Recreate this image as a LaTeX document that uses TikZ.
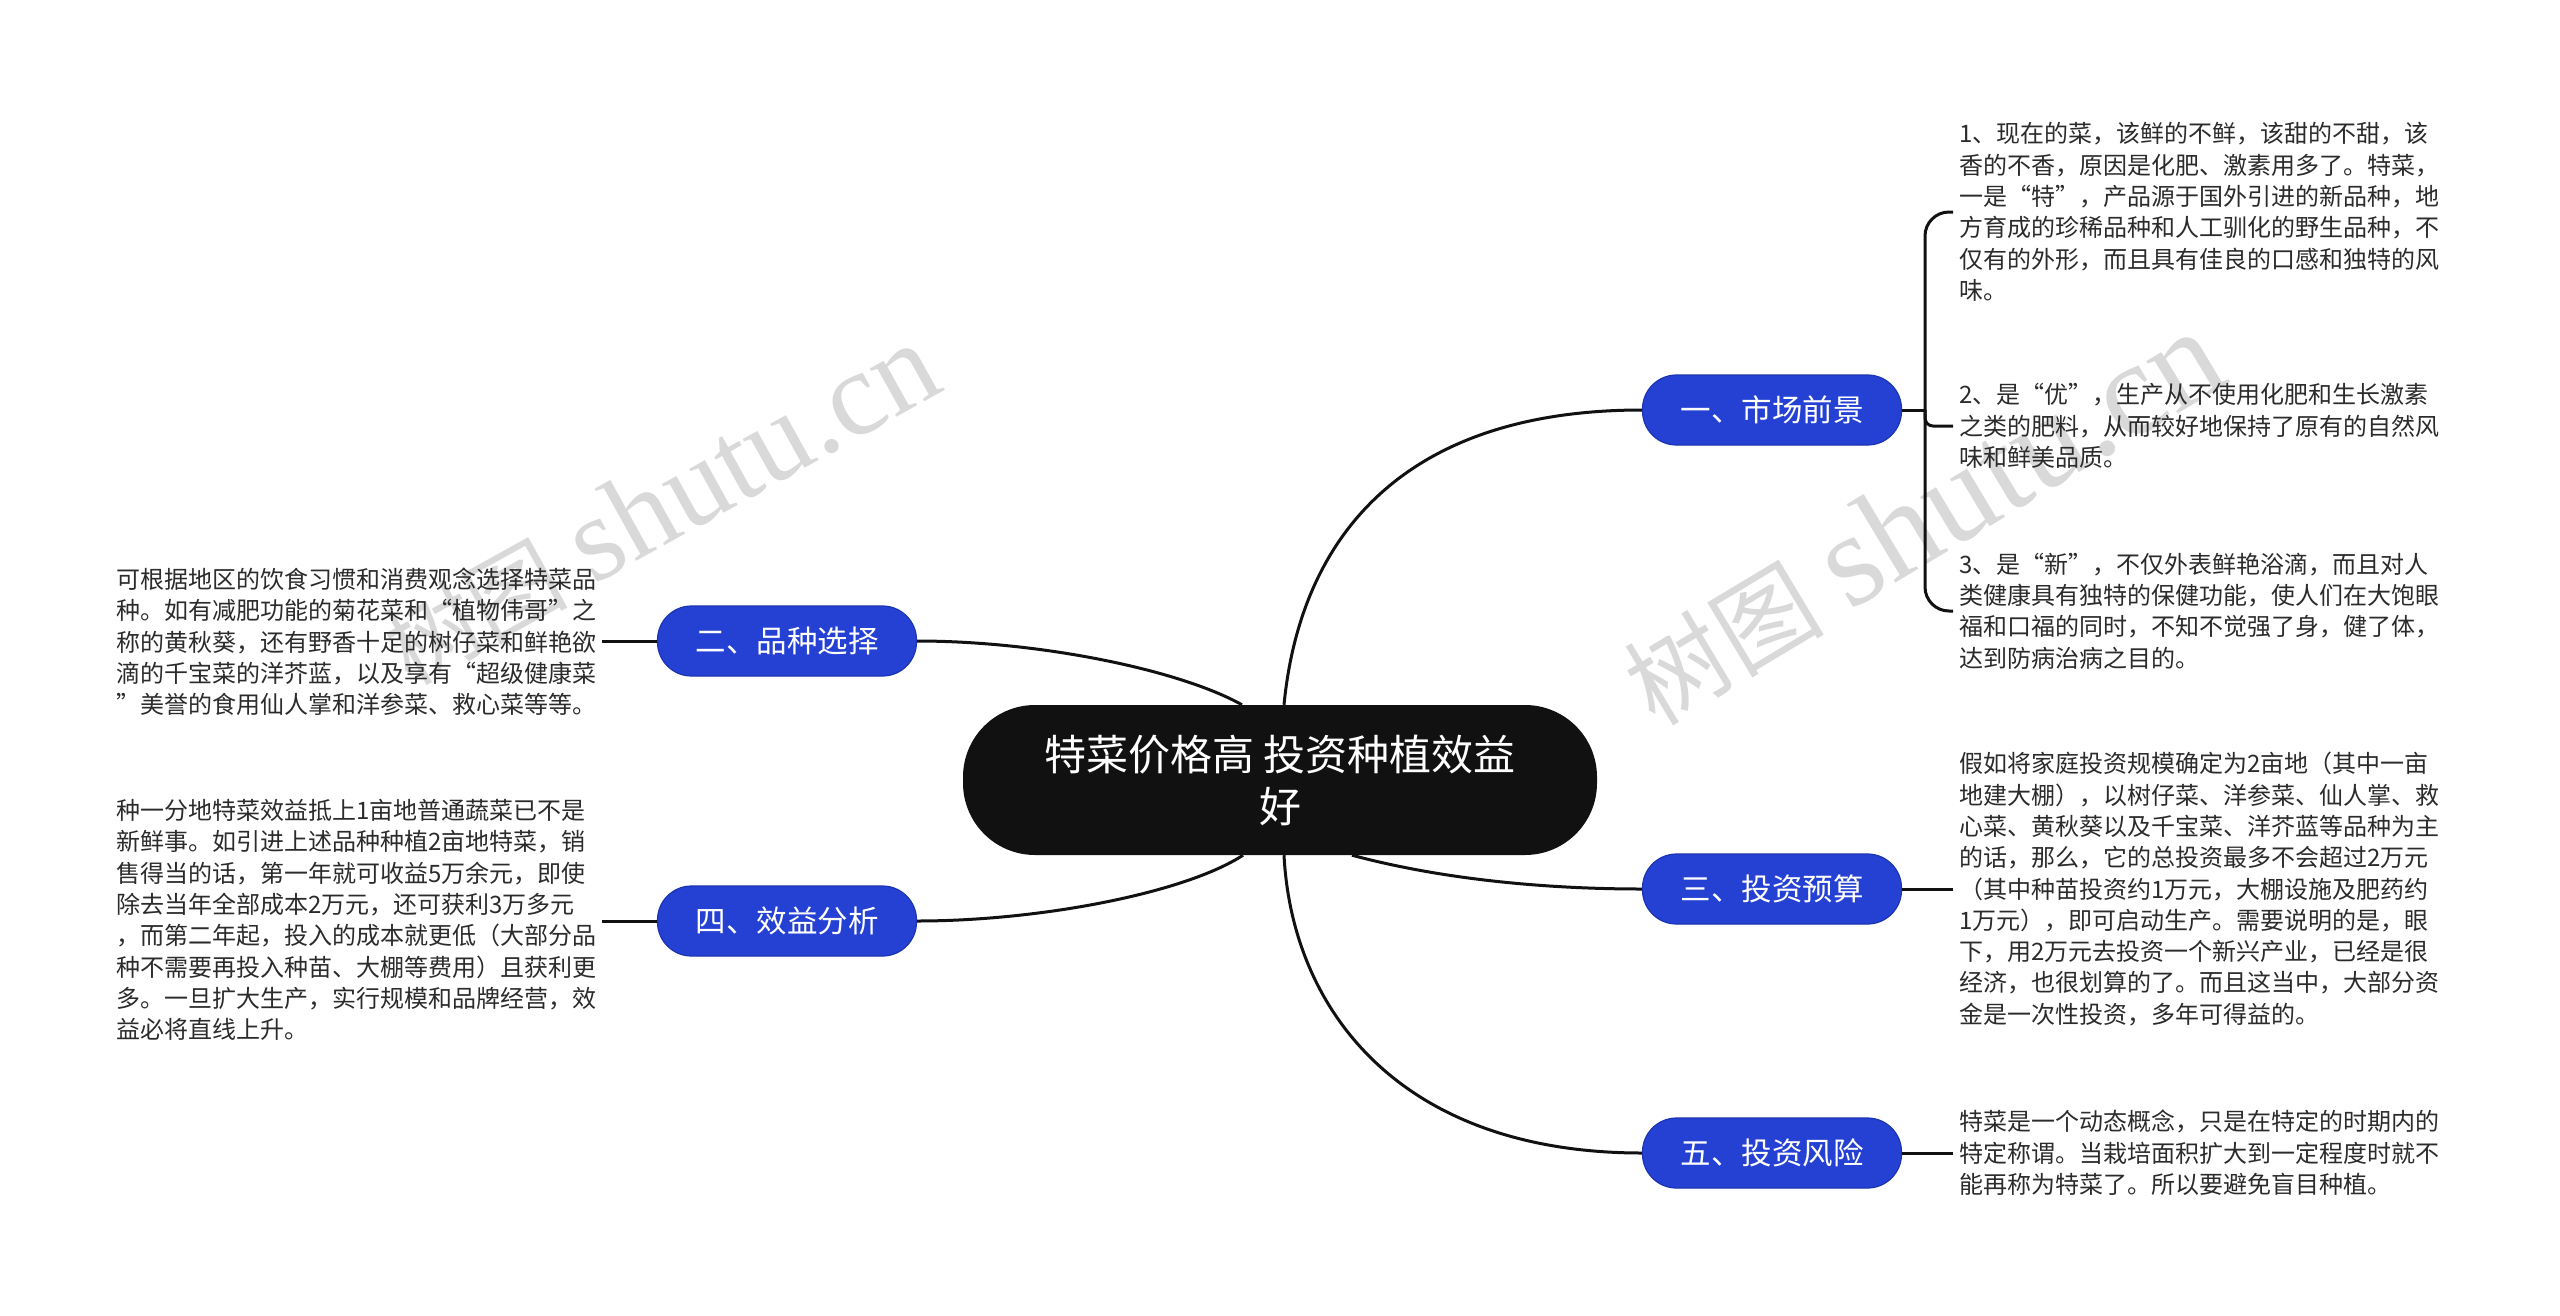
\documentclass[tikz,border=0pt]{standalone}
\usepackage{fontspec}
\setmainfont{Noto Sans CJK SC}
\newfontfamily\markserif{Liberation Serif}
\definecolor{topicblue}{HTML}{2541D4}
\definecolor{topicedge}{HTML}{1C34B0}
\definecolor{rootblack}{HTML}{111111}
\definecolor{notegray}{HTML}{2B2B2B}
\colorlet{markgray}{black!15}
\newcommand{\markword}[2]{{\fontsize{#1}{#1}\selectfont 树图}\hspace{26pt}{\markserif\fontsize{#2}{#2}\selectfont shutu.cn}}
\tikzset{
  root/.style = {fill=rootblack, text=white, rounded corners=72pt,
    minimum width=634pt, minimum height=150pt, align=center, inner sep=0pt,
    font=\fontsize{42}{52}\selectfont},
  topic/.style = {fill=topicblue, draw=topicedge, line width=1.2pt, text=white,
    rounded corners=34pt, minimum width=259pt, minimum height=70pt, inner sep=0pt,
    font=\fontsize{30.5}{36}\selectfont},
  note/.style = {anchor=west, align=left, text=notegray, inner xsep=6pt, inner ysep=4pt,
    font=\fontsize{24}{31.3}\selectfont},
  link/.style = {line width=3pt, draw=rootblack}
}

\begin{document}
\begin{tikzpicture}[x=1pt,y=-1pt]
    \useasboundingbox (0,0) rectangle (2560,1315);
    % watermarks
    \node[rotate=29, text=markgray] (wmleft) at (660,505) {\markword{92}{120}};
    \node[rotate=31, text=markgray] (wmright) at (1922,518) {\markword{100}{133}};

    \node[root] (root) at (1280,780) {特菜价格高 投资种植效益\\好};
    \node[topic] (market) at (1772,410) {一、市场前景};
    \node[topic] (variety) at (787,641) {二、品种选择};
    \node[topic] (budget) at (1772,889) {三、投资预算};
    \node[topic] (benefit) at (787,921) {四、效益分析};
    \node[topic] (risk) at (1772,1153) {五、投资风险};

    \node[note] (m1) at (1953,212) {1、现在的菜，该鲜的不鲜，该甜的不甜，该\\香的不香，原因是化肥、激素用多了。特菜，\\一是“特”，产品源于国外引进的新品种，地\\方育成的珍稀品种和人工驯化的野生品种，不\\仅有的外形，而且具有佳良的口感和独特的风\\味。};
    \node[note] (m2) at (1953,426) {2、是“优”，生产从不使用化肥和生长激素\\之类的肥料，从而较好地保持了原有的自然风\\味和鲜美品质。};
    \node[note] (m3) at (1953,611) {3、是“新”，不仅外表鲜艳浴滴，而且对人\\类健康具有独特的保健功能，使人们在大饱眼\\福和口福的同时，不知不觉强了身，健了体，\\达到防病治病之目的。};
    \node[note] (b1) at (1953,889) {假如将家庭投资规模确定为2亩地（其中一亩\\地建大棚），以树仔菜、洋参菜、仙人掌、救\\心菜、黄秋葵以及千宝菜、洋芥蓝等品种为主\\的话，那么，它的总投资最多不会超过2万元\\（其中种苗投资约1万元，大棚设施及肥药约\\1万元），即可启动生产。需要说明的是，眼\\下，用2万元去投资一个新兴产业，已经是很\\经济，也很划算的了。而且这当中，大部分资\\金是一次性投资，多年可得益的。};
    \node[note] (r1) at (1953,1153) {特菜是一个动态概念，只是在特定的时期内的\\特定称谓。当栽培面积扩大到一定程度时就不\\能再称为特菜了。所以要避免盲目种植。};
    \node[note] (v1) at (110,642) {可根据地区的饮食习惯和消费观念选择特菜品\\种。如有减肥功能的菊花菜和“植物伟哥”之\\称的黄秋葵，还有野香十足的树仔菜和鲜艳欲\\滴的千宝菜的洋芥蓝，以及享有“超级健康菜\\”美誉的食用仙人掌和洋参菜、救心菜等等。};
    \node[note] (e1) at (110,920) {种一分地特菜效益抵上1亩地普通蔬菜已不是\\新鲜事。如引进上述品种种植2亩地特菜，销\\售得当的话，第一年就可收益5万余元，即使\\除去当年全部成本2万元，还可获利3万多元\\，而第二年起，投入的成本就更低（大部分品\\种不需要再投入种苗、大棚等费用）且获利更\\多。一旦扩大生产，实行规模和品牌经营，效\\益必将直线上升。};

    % root to topics
    \draw[link] ([xshift=4pt]root.north) .. controls (1300,540) and (1400,410) .. (market.west);
    \draw[link] (variety.east) .. controls (1040,641) and (1180,670) .. ([xshift=-38pt]root.north);
    \draw[link] ([xshift=-37pt]root.south) .. controls (1185,893) and (1040,921) .. (benefit.east);
    \draw[link] ([xshift=4pt]root.south) .. controls (1292,1010) and (1400,1153) .. (risk.west);
    \draw[link] ([xshift=72pt]root.south) .. controls (1452,882) and (1560,889) .. (budget.west);

    % topics to notes
    \coordinate (mfork) at (1925,410);
    \draw[link] (market.east) -- (mfork);
    \draw[link, rounded corners=24pt] (mfork) |- (m1.west);
    \draw[link, rounded corners=24pt] (mfork) |- (m3.west);
    \draw[link, rounded corners=8pt] (mfork) |- (m2.west);
    \draw[link] (budget.east) -- (budget.east -| b1.west);
    \draw[link] (risk.east) -- (risk.east -| r1.west);
    \draw[link] (variety.west) -- (variety.west -| v1.east);
    \draw[link] (benefit.west) -- (benefit.west -| e1.east);
\end{tikzpicture}
\end{document}
